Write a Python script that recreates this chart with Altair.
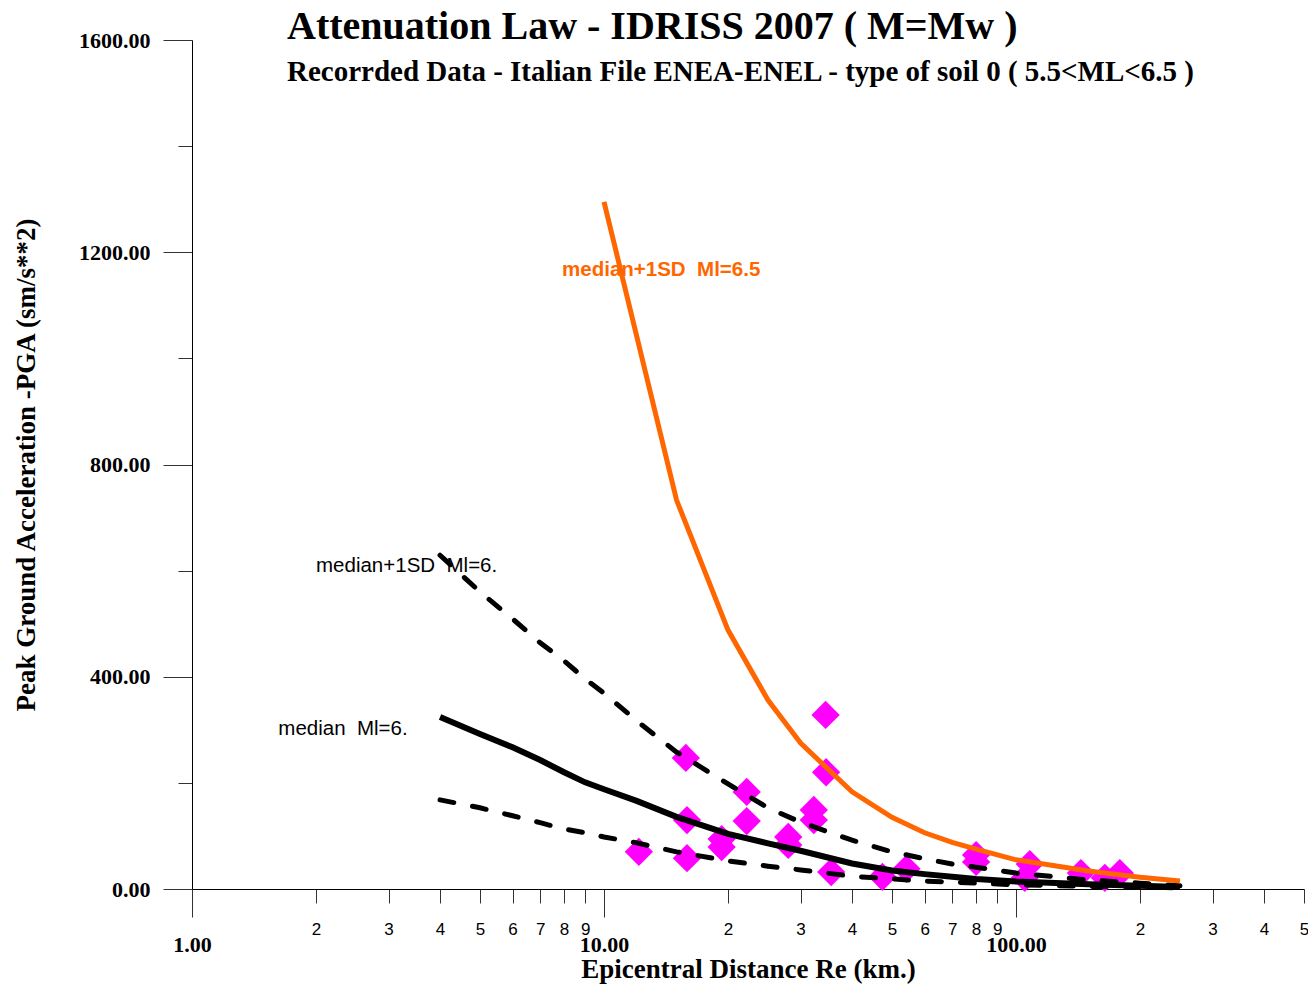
import altair as alt
import pandas as pd

# ---- data ----
dist_ml6 = [4, 5, 6, 7, 8, 9, 10, 12, 15, 20, 25, 30, 40, 50, 60, 70, 80, 100, 150, 200, 250]
median_ml6 = [324, 292, 267, 243, 220, 201, 188, 166, 136, 104, 86, 72, 48, 35, 28, 23, 19, 14, 9, 6, 4]
plus1sd_ml6 = [629, 560, 509, 464, 430, 396, 369, 317, 258, 198, 153, 126, 92, 70, 57, 47, 41, 30, 17, 11, 6]
minus1sd_ml6 = [168, 153, 138, 125, 113, 106, 98, 87, 70, 53, 43, 36, 24, 19, 15, 13, 11, 8, 5, 4, 2]

dist_ml65 = [10, 15, 20, 25, 30, 40, 50, 60, 70, 80, 100, 150, 200, 250]
plus1sd_ml65 = [1295, 733, 488, 356, 275, 183, 135, 106, 88, 75, 55, 34, 22, 15]

obs_dist = [34.5, 34.6, 15.8, 15.9, 15.9, 12.15, 22.2, 22.2, 19.3, 19.3, 28.0, 28.0,
            32.3, 32.3, 35.6, 47.4, 54.2, 80.0, 80.0, 108, 105, 143.7, 164.3, 178.6]
obs_pga = [328, 220, 247, 130, 58, 70, 183, 128, 94, 79, 98, 83,
           149, 130, 32, 23, 38, 64, 51, 47, 21, 30, 21, 30]

label_text = ["median+1SD\u00a0 Ml=6.5", "median+1SD\u00a0 Ml=6.", "median\u00a0 Ml=6."]
label_x = [7.91, 2.0, 1.62]
label_y = [1167, 608, 301]
label_weight = ["bold", "normal", "normal"]

x_ticks = [1, 2, 3, 4, 5, 6, 7, 8, 9, 10, 20, 30, 40, 50, 60, 70, 80, 90,
           100, 200, 300, 400, 500]
y_ticks = [0, 200, 400, 600, 800, 1000, 1200, 1400, 1600]

# ---- encodings ----
dec = "datum.value == 1 || datum.value == 10 || datum.value == 100"
x_axis = alt.Axis(
    values=x_ticks,
    title="Epicentral Distance Re (km.)",
    labelExpr=f"({dec}) ? format(datum.value, '.2f') : substring(toString(datum.value), 0, 1)",
    tickSize={"condition": {"test": dec, "value": 28}, "value": 14},
    labelFont={"condition": {"test": dec, "value": "Liberation Serif"}, "value": "Liberation Sans"},
    labelFontWeight={"condition": {"test": dec, "value": "bold"}, "value": "normal"},
    labelFontSize={"condition": {"test": dec, "value": 22}, "value": 17},
    labelPadding={"condition": {"test": dec, "value": 17}, "value": 18},
    labelOverlap=False, labelFlush=False, labelBound=False,
    labelColor="black", tickColor="#333", domainColor="black",
    grid=False,
    titleFont="Liberation Serif", titleFontSize=27, titleFontWeight="bold",
    titleColor="black", titlePadding=1,
)
y_axis = alt.Axis(
    values=y_ticks,
    title="Peak Ground Acceleration -PGA (sm/s**2)",
    labelExpr="datum.value % 400 == 0 ? format(datum.value, '.2f') : ''",
    tickSize={"condition": {"test": "datum.value % 400 == 0", "value": 29}, "value": 14},
    labelFont="Liberation Serif", labelFontWeight="bold", labelFontSize=22,
    labelPadding=13, labelColor="black", labelOverlap=False,
    tickColor="#333", domainColor="black", grid=False,
    titleFont="Liberation Serif", titleFontSize=27, titleFontWeight="bold",
    titleColor="black", titlePadding=38,
)
xs = alt.Scale(type="log", domain=[1, 500], nice=False)
ys = alt.Scale(domain=[0, 1600], nice=False, zero=True)

def xe(f):
    return alt.X(f"{f}:Q", scale=xs, axis=x_axis)

def ye(f):
    return alt.Y(f"{f}:Q", scale=ys, axis=y_axis)

df_med = pd.DataFrame({"d": dist_ml6, "v": median_ml6})
df_p = pd.DataFrame({"d": dist_ml6, "v": plus1sd_ml6})
df_m = pd.DataFrame({"d": dist_ml6, "v": minus1sd_ml6})
df_o = pd.DataFrame({"d": dist_ml65, "v": plus1sd_ml65})
df_obs = pd.DataFrame({"d": obs_dist, "v": obs_pga})
df_lab = pd.DataFrame({"d": label_x, "v": label_y, "t": label_text, "w": label_weight})

labels_bold = alt.Chart(df_lab[df_lab["w"] == "bold"]).mark_text(
    align="left", baseline="middle", font="Liberation Sans", fontSize=20.5,
    fontWeight="bold", color="#FF6600").encode(x=xe("d"), y=ye("v"), text="t:N")
labels_norm = alt.Chart(df_lab[df_lab["w"] == "normal"]).mark_text(
    align="left", baseline="middle", font="Liberation Sans", fontSize=20.5,
    color="black").encode(x=xe("d"), y=ye("v"), text="t:N")

pts = alt.Chart(df_obs).mark_point(
    shape="diamond", filled=True, size=800, color="#FF00FF", opacity=1
).encode(x=xe("d"), y=ye("v"))

line_m = alt.Chart(df_m).mark_line(color="black", strokeWidth=5, strokeDash=[14, 19],
                                   strokeCap="round").encode(x=xe("d"), y=ye("v"))
line_p = alt.Chart(df_p).mark_line(color="black", strokeWidth=5, strokeDash=[14, 19],
                                   strokeCap="round").encode(x=xe("d"), y=ye("v"))
line_med = alt.Chart(df_med).mark_line(color="black", strokeWidth=6).encode(x=xe("d"), y=ye("v"))
line_o = alt.Chart(df_o).mark_line(color="#FF6600", strokeWidth=5).encode(x=xe("d"), y=ye("v"))

chart = alt.layer(labels_bold, labels_norm, pts, line_m, line_p, line_med, line_o).properties(
    width=1112, height=849,
    autosize=alt.AutoSizeParams(type="none"),
    padding={"left": 184, "top": 32, "right": 4, "bottom": 95},
    view=alt.ViewBackground(strokeOpacity=0),
    title=alt.TitleParams(
        text="Attenuation Law - IDRISS 2007 ( M=Mw )",
        subtitle="Recorrded Data - Italian File ENEA-ENEL - type of soil 0 ( 5.5<ML<6.5 )",
        anchor="start", frame="group", dx=95, offset=-58,
        font="Liberation Serif", fontSize=40, fontWeight="bold", color="black",
        subtitleFont="Liberation Serif", subtitleFontSize=29, subtitleFontWeight="bold",
        subtitleColor="black", subtitlePadding=11,
    ),
).configure_view(stroke="transparent", strokeWidth=0).configure(background="white")

chart.save("out.html", embed_options={"renderer": "svg", "actions": False})
